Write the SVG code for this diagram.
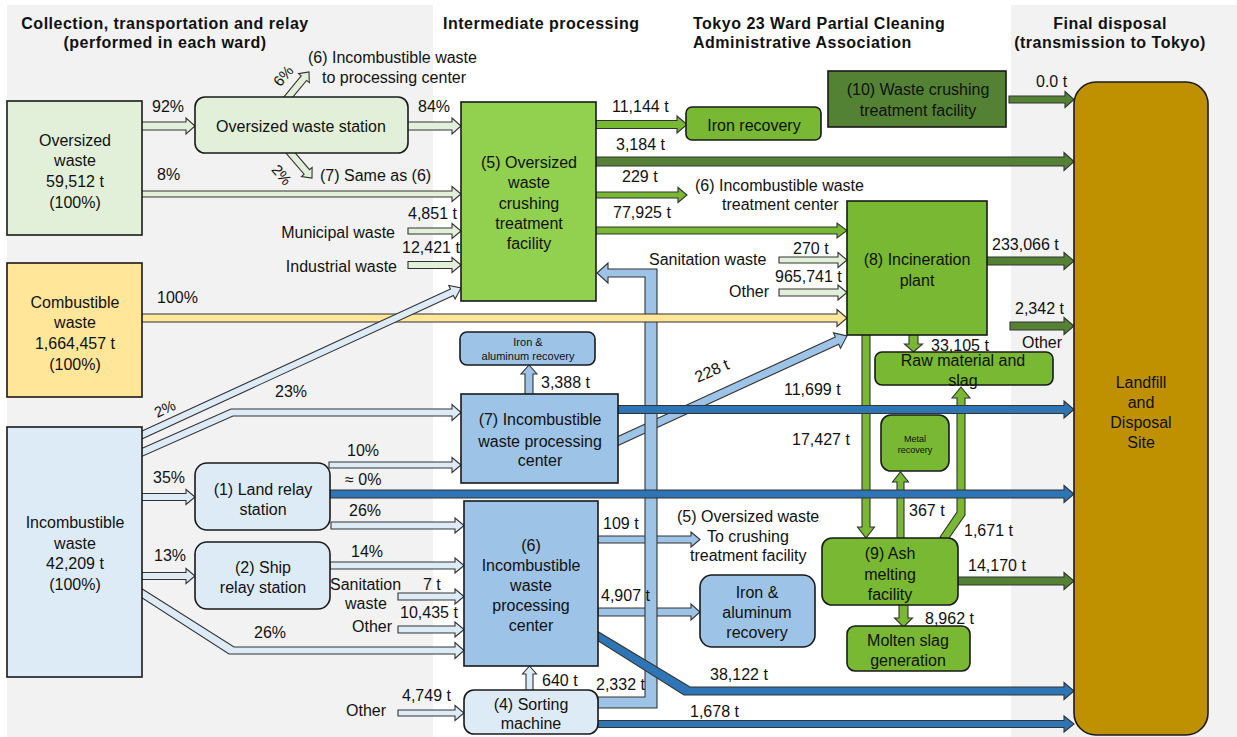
<svg xmlns="http://www.w3.org/2000/svg" width="1237" height="737" viewBox="0 0 1237 737">
<style>
.t{font-family:"Liberation Sans",Arial,sans-serif;font-size:16px;fill:#111}
.h{font-weight:bold;letter-spacing:0.5px}
.m{text-anchor:middle}
.e{text-anchor:end}
.s{font-size:15px}
.box{stroke:#1a1a1a;stroke-width:1.6}
.arr{stroke:#333333;stroke-width:1.1;stroke-linejoin:miter}
.lg{fill:#E2F0D9}.g5{fill:#92D050}.g{fill:#78B832}.dg{fill:#548235}.lb{fill:#DDEBF7}.mb{fill:#9DC3E6}.db{fill:#2E75B6}.y{fill:#FFE699}.lf{fill:#BF9000}
</style>
<g id="background">
<rect x="0" y="0" width="1237" height="737" fill="#ffffff"/>
<rect x="7" y="5" width="426" height="732" fill="#F2F2F2"/>
<rect x="1011" y="5" width="226" height="732" fill="#F2F2F2"/>
<text class="t h m" x="165" y="29">Collection, transportation and relay</text>
<text class="t h m" x="165" y="48">(performed in each ward)</text>
<text class="t h" x="443" y="29">Intermediate processing</text>
<text class="t h" x="693" y="29">Tokyo 23 Ward Partial Cleaning</text>
<text class="t h" x="693" y="48">Administrative Association</text>
<text class="t h m" x="1110" y="29">Final disposal</text>
<text class="t h m" x="1110" y="48">(transmission to Tokyo)</text>
</g>
<g id="connectors">
<polygon class="arr lg" points="140,122 186,122 186,118 195,126 186,134 186,130 140,130"/>
<polygon class="arr lg" points="406,122 452,122 452,118 461,126 452,134 452,130 406,130"/>
<polygon class="arr lg" points="140,191 452,191 452,186.5 461,194 452,201.5 452,197 140,197"/>
<polygon class="arr lg" points="408,228 452,228 452,223.5 461,231 452,238.5 452,234 408,234"/>
<polygon class="arr lg" points="408,261.5 452,261.5 452,257.5 461,265 452,272.5 452,268.5 408,268.5"/>
<polygon class="arr lg" points="282.3,98.8 301.2,75.9 298.5,73.7 309,72 309.3,82.6 306.6,80.4 287.7,103.2"/>
<polygon class="arr lg" points="290.7,147.7 309.5,169.7 312.1,167.4 312,178 301.5,176.5 304.1,174.2 285.3,152.3"/>
<polygon class="arr lg" points="779,257 838,257 838,252.5 847,260 838,267.5 838,263 779,263"/>
<polygon class="arr lg" points="779,289 838,289 838,285 847,292.5 838,300 838,296 779,296"/>
<polygon class="arr g" points="596,120.5 677,120.5 677,116 687,124.5 677,133 677,128.5 596,128.5"/>
<polygon class="arr g" points="596,192 678,192 678,187.5 687,195 678,202.5 678,198 596,198"/>
<polygon class="arr g" points="596,227 837,227 837,223 847,230.5 837,238 837,234 596,234"/>
<polygon class="arr g" points="909,333 909,344 904.5,344 913.5,352 922.5,344 918,344 918,333"/>
<polygon class="arr g" points="862,333 862,527 857.5,527 866,538 874.5,527 870,527 870,333"/>
<polygon class="arr g" points="897,540 897,482 892.5,482 900.5,472 908.5,482 904,482 904,540"/>
<polygon class="arr g" points="940,537 957,512 957,398 952,398 961,387 970,398 965,398 965,515 947,541"/>
<polygon class="arr g" points="899,603 899,618 894.5,618 903.5,627 912.5,618 908,618 908,603"/>
<polygon class="arr lb" points="136,451 231,409 452,409 452,404.5 461,412.5 452,420.5 452,416 233,416 136,459"/>
<polygon class="arr lb" points="140,493.5 186,493.5 186,489.5 195,497 186,504.5 186,500.5 140,500.5"/>
<polygon class="arr lb" points="140,572.5 186,572.5 186,568.5 195,576 186,583.5 186,579.5 140,579.5"/>
<polygon class="arr lb" points="136,585 234,647 455,647 455,642.5 464,650.5 455,658.5 455,654 229,654 136,594"/>
<polygon class="arr lb" points="329,462 452,462 452,457.5 461,465 452,472.5 452,468 329,468"/>
<polygon class="arr lb" points="331,522 455,522 455,518 464,525.5 455,533 455,529 331,529"/>
<polygon class="arr lb" points="330,562 455,562 455,558 464,565.5 455,573 455,569 330,569"/>
<polygon class="arr lb" points="398,593 455,593 455,589 464,596.5 455,604 455,600 398,600"/>
<polygon class="arr lb" points="398,626 455,626 455,622 464,629.5 455,637 455,633 398,633"/>
<polygon class="arr lb" points="398,710 455,710 455,705.5 464,713 455,720.5 455,716 398,716"/>
<polygon class="arr lb" points="526,692 526,674 522.5,674 529.5,666 536.5,674 533,674 533,692"/>
<polygon class="arr mb" points="598,536 691,536 691,532 700,539.5 691,547 691,543 598,543"/>
<polygon class="arr mb" points="598,608 691,608 691,604 700,612 691,620 691,616 598,616"/>
<polygon class="arr mb" points="525,396 525,374 521,374 529,365 537,374 533,374 533,396"/>
<polygon class="arr mb" points="610.3,440.1 835.3,337 833.5,332.9 847,336 840.5,348.3 838.7,344.2 613.7,447.4"/>
<polygon class="arr mb" points="598,697 645,697 645,277 608,277 608,283 597,273 608,263 608,269 657,269 657,708 598,708"/>
<polygon class="arr y" points="140,314 837,314 837,309.5 847,318 837,326.5 837,322 140,322"/>
<polygon class="arr lb" points="134.5,434.6 450.5,289 448.8,285.4 461,288 455.1,299 453.4,295.4 137.5,440.9"/>
<polygon class="arr db" points="330,490 1064,490 1064,485.5 1074,494 1064,502.5 1064,498 330,498"/>
<polygon class="arr db" points="618,405.5 1064,405.5 1064,401 1074,409.5 1064,418 1064,413.5 618,413.5"/>
<polygon class="arr db" points="592,628 690,687 1064,687 1064,682.5 1074,691 1064,699.5 1064,695 684,695 592,637"/>
<polygon class="arr db" points="598,720.5 1064,720.5 1064,716 1074,724 1064,732 1064,727.5 598,727.5"/>
<polygon class="arr dg" points="596,157 1064,157 1064,152.5 1074,161.5 1064,170.5 1064,166 596,166"/>
<polygon class="arr dg" points="1009,96 1065,96 1065,91.5 1074,99.5 1065,107.5 1065,103 1009,103"/>
<polygon class="arr dg" points="987,257 1064,257 1064,252.5 1074,261 1064,269.5 1064,265 987,265"/>
<polygon class="arr dg" points="1010,322 1064,322 1064,317.5 1074,326 1064,334.5 1064,330 1010,330"/>
<polygon class="arr dg" points="958,577 1064,577 1064,572.5 1074,581 1064,589.5 1064,585 958,585"/>
</g>
<g id="oversized-waste">
<rect class="box lg" x="7" y="101" width="135" height="134"/>
<text class="t m" x="75" y="145.5">Oversized</text>
<text class="t m" x="75" y="166">waste</text>
<text class="t m" x="75" y="186.5">59,512 t</text>
<text class="t m" x="75" y="207.5">(100%)</text>
</g>
<g id="combustible-waste">
<rect class="box y" x="7" y="263" width="135" height="134"/>
<text class="t m" x="75" y="307.5">Combustible</text>
<text class="t m" x="75" y="328">waste</text>
<text class="t m" x="75" y="348.5">1,664,457 t</text>
<text class="t m" x="75" y="369.5">(100%)</text>
</g>
<g id="incombustible-waste">
<rect class="box lb" x="7" y="427" width="135" height="250"/>
<text class="t m" x="75" y="528">Incombustible</text>
<text class="t m" x="75" y="548.5">waste</text>
<text class="t m" x="75" y="569">42,209 t</text>
<text class="t m" x="75" y="589.5">(100%)</text>
</g>
<g id="oversized-waste-station">
<rect class="box lg" x="195" y="97" width="213" height="56" rx="10"/>
<text class="t m" x="301" y="131.5">Oversized waste station</text>
</g>
<g id="crushing-facility-5">
<rect class="box g5" x="461" y="102" width="135" height="199"/>
<text class="t m" x="529" y="167.5">(5) Oversized</text>
<text class="t m" x="529" y="188">waste</text>
<text class="t m" x="529" y="208.5">crushing</text>
<text class="t m" x="529" y="228.5">treatment</text>
<text class="t m" x="529" y="248.5">facility</text>
</g>
<g id="iron-recovery">
<rect class="box g" x="686" y="107" width="135" height="33" rx="6"/>
<text class="t m" x="754" y="130.5">Iron recovery</text>
</g>
<g id="crushing-facility-10">
<rect class="box dg" x="828" y="71" width="178" height="56"/>
<text class="t m" x="918" y="95">(10) Waste crushing</text>
<text class="t m" x="918" y="115.5">treatment facility</text>
</g>
<g id="incineration-plant-8">
<rect class="box g" x="847" y="201" width="140" height="134"/>
<text class="t m" x="917" y="264.5">(8) Incineration</text>
<text class="t m" x="917" y="285.5">plant</text>
</g>
<g id="iron-aluminum-recovery-small">
<rect class="box mb" x="460" y="332" width="135" height="33" rx="7"/>
<text class="t m" x="528" y="346" style="font-size:11px">Iron &amp;</text>
<text class="t m" x="528" y="359.5" style="font-size:11px">aluminum recovery</text>
</g>
<g id="processing-center-7">
<rect class="box mb" x="461" y="394" width="157" height="89"/>
<text class="t m" x="540" y="425">(7) Incombustible</text>
<text class="t m" x="540" y="446.5">waste processing</text>
<text class="t m" x="540" y="465.5">center</text>
</g>
<g id="land-relay-station-1">
<rect class="box lb" x="195" y="463" width="135" height="67" rx="12"/>
<text class="t m" x="263" y="494.5">(1) Land relay</text>
<text class="t m" x="263" y="515">station</text>
</g>
<g id="ship-relay-station-2">
<rect class="box lb" x="195" y="542" width="135" height="67" rx="12"/>
<text class="t m" x="263" y="573">(2) Ship</text>
<text class="t m" x="263" y="593">relay station</text>
</g>
<g id="processing-center-6">
<rect class="box mb" x="464" y="501" width="134" height="165"/>
<text class="t m" x="531" y="550.5">(6)</text>
<text class="t m" x="531" y="570.5">Incombustible</text>
<text class="t m" x="531" y="591">waste</text>
<text class="t m" x="531" y="611">processing</text>
<text class="t m" x="531" y="630.5">center</text>
</g>
<g id="iron-aluminum-recovery">
<rect class="box mb" x="700" y="575" width="115" height="72" rx="12"/>
<text class="t m" x="757" y="598">Iron &amp;</text>
<text class="t m" x="757" y="618">aluminum</text>
<text class="t m" x="757" y="638">recovery</text>
</g>
<g id="sorting-machine-4">
<rect class="box lb" x="464" y="690" width="134" height="44" rx="10"/>
<text class="t m" x="531" y="709.5">(4) Sorting</text>
<text class="t m" x="531" y="729">machine</text>
</g>
<g id="raw-material-slag">
<rect class="box g" x="875" y="352" width="178" height="33" rx="7"/>
<text class="t m" x="963" y="366">Raw material and</text>
<text class="t m" x="963" y="385.5">slag</text>
</g>
<g id="metal-recovery">
<rect class="box g" x="881" y="415" width="68" height="56" rx="10"/>
<text class="t m" x="915" y="442" style="font-size:9px">Metal</text>
<text class="t m" x="915" y="453" style="font-size:9px">recovery</text>
</g>
<g id="ash-melting-facility-9">
<rect class="box g" x="822" y="538" width="136" height="67" rx="10"/>
<text class="t m" x="890" y="558.5">(9) Ash</text>
<text class="t m" x="890" y="579.5">melting</text>
<text class="t m" x="890" y="599.5">facility</text>
</g>
<g id="molten-slag-generation">
<rect class="box g" x="847" y="626" width="123" height="45" rx="8"/>
<text class="t m" x="908" y="646">Molten slag</text>
<text class="t m" x="908" y="666">generation</text>
</g>
<g id="landfill">
<rect class="box lf" x="1074" y="82" width="134" height="653" rx="22"/>
<text class="t m" x="1141" y="387.5">Landfill</text>
<text class="t m" x="1141" y="407.5">and</text>
<text class="t m" x="1141" y="428">Disposal</text>
<text class="t m" x="1141" y="448">Site</text>
</g>
<g id="connector-labels">
<text class="t" x="152" y="112">92%</text>
<text class="t" x="418" y="111.5">84%</text>
<text class="t s m" transform="translate(283.5,76) rotate(-50)" y="5">6%</text>
<text class="t" x="308" y="62.5">(6) Incombustible waste</text>
<text class="t" x="322" y="82.5">to processing center</text>
<text class="t s m" transform="translate(281.5,175) rotate(50)" y="5">2%</text>
<text class="t" x="320" y="180.5">(7) Same as (6)</text>
<text class="t" x="157" y="179.5">8%</text>
<text class="t" x="408" y="218.5">4,851 t</text>
<text class="t e" x="395" y="237.5">Municipal waste</text>
<text class="t" x="402" y="253">12,421 t</text>
<text class="t e" x="397" y="271.5">Industrial waste</text>
<text class="t s m" transform="translate(165,409) rotate(-25)" y="5">2%</text>
<text class="t" x="157" y="303">100%</text>
<text class="t" x="275" y="396.5">23%</text>
<text class="t" x="347" y="456">10%</text>
<text class="t" x="153" y="483">35%</text>
<text class="t" x="345" y="485">≈ 0%</text>
<text class="t" x="349" y="516">26%</text>
<text class="t" x="351" y="557">14%</text>
<text class="t" x="154" y="561">13%</text>
<text class="t" x="330" y="589.5">Sanitation</text>
<text class="t" x="345" y="609">waste</text>
<text class="t" x="423" y="589.5">7 t</text>
<text class="t" x="400" y="618">10,435 t</text>
<text class="t" x="352" y="632">Other</text>
<text class="t" x="254" y="638">26%</text>
<text class="t" x="346" y="715.5">Other</text>
<text class="t" x="402" y="700.5">4,749 t</text>
<text class="t" x="542" y="685.5">640 t</text>
<text class="t" x="596" y="689.5">2,332 t</text>
<text class="t" x="690" y="717">1,678 t</text>
<text class="t" x="710" y="680">38,122 t</text>
<text class="t" x="603" y="529">109 t</text>
<text class="t" x="601" y="601">4,907 t</text>
<text class="t" x="677" y="522">(5) Oversized waste</text>
<text class="t" x="707" y="541.5">To crushing</text>
<text class="t" x="690" y="561">treatment facility</text>
<text class="t" x="612" y="112">11,144 t</text>
<text class="t" x="616" y="149.5">3,184 t</text>
<text class="t" x="622" y="182">229 t</text>
<text class="t" x="695" y="190.5">(6) Incombustible waste</text>
<text class="t" x="722" y="209.5">treatment center</text>
<text class="t" x="613" y="218">77,925 t</text>
<text class="t" x="649" y="264.5">Sanitation waste</text>
<text class="t" x="793" y="254">270 t</text>
<text class="t" x="729" y="297">Other</text>
<text class="t" x="775" y="281.5">965,741 t</text>
<text class="t m" transform="translate(712,371) rotate(-24)" y="5">228 t</text>
<text class="t" x="541" y="388">3,388 t</text>
<text class="t" x="784" y="394.5">11,699 t</text>
<text class="t" x="1036" y="87">0.0 t</text>
<text class="t" x="992" y="250">233,066 t</text>
<text class="t" x="1015" y="314">2,342 t</text>
<text class="t" x="1022" y="348">Other</text>
<text class="t" x="931" y="350.5">33,105 t</text>
<text class="t" x="792" y="444.5">17,427 t</text>
<text class="t" x="909" y="515.5">367 t</text>
<text class="t" x="964" y="536">1,671 t</text>
<text class="t" x="968" y="570.5">14,170 t</text>
<text class="t" x="925" y="624">8,962 t</text>
</g>
</svg>
